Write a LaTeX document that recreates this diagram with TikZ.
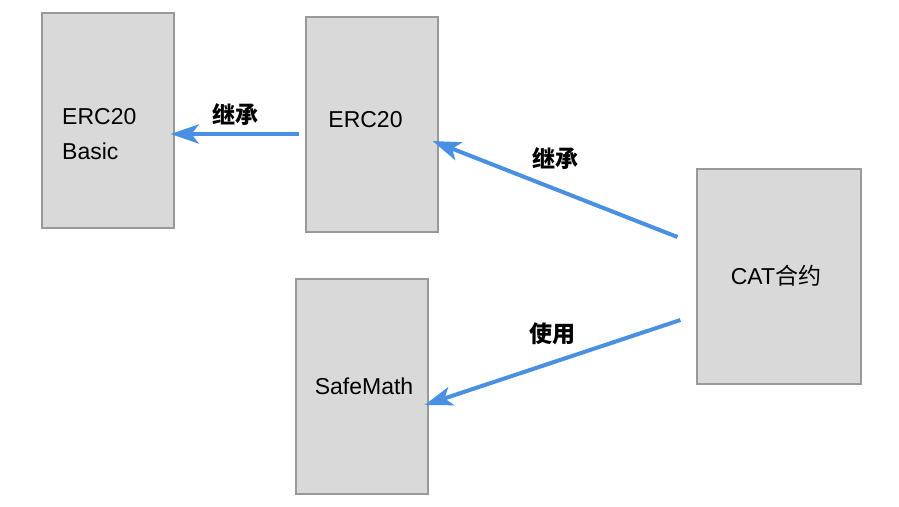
\documentclass[tikz,border=0pt]{standalone}
\usepackage{fontspec}
\setmainfont{Liberation Sans}
\newfontfamily\cjk{Noto Sans CJK SC}
\usepackage{tikz}
\usetikzlibrary{arrows.meta}
\definecolor{boxfill}{HTML}{D9D9D9}
\definecolor{boxline}{HTML}{999999}
\definecolor{arrowblue}{HTML}{4A90E2}
\tikzstyle{box} = [rectangle, draw=boxline, line width=1.2pt, fill=boxfill, minimum width=132pt, minimum height=215pt]
\tikzstyle{boxtext} = [align=left, font=\fontsize{23}{35}\selectfont]
\tikzstyle{rel} = [draw=arrowblue, line width=4pt, -{Stealth[length=28pt,width=19pt,inset=7pt]}]
\tikzstyle{lbl} = [font=\cjk\bfseries\fontsize{23}{26}\selectfont]

\begin{document}
\begin{tikzpicture}[x=1pt,y=-1pt]
    \useasboundingbox (0,0) rectangle (899,506);
    % boxes
    \node (Basic) [box] at (108,120.5) {};
    \node (ERC) [box] at (372,124.5) {};
    \node (CAT) [box, minimum width=164pt] at (779,276.5) {};
    \node (Safe) [box] at (362,386.5) {};
    % names
    \node (BasicName) [boxtext, anchor=west, inner sep=0pt] at (62,134.5) {ERC20\\Basic};
    \node (ERCName) [boxtext] at (365.5,120) {ERC20};
    \node (CATName) [boxtext] at (776,276) {CAT{\cjk 合约}};
    \node (SafeName) [boxtext] at (364,386) {SafeMath};
    % relations
    \draw[rel] ([shift={(-6pt,-9.5pt)}]ERC.west) -- node[lbl, above=3pt] {继承} ([shift={(-4pt,-13.5pt)}]Basic.east);
    \draw[rel] ([shift={(-19pt,39.5pt)}]CAT.west) -- node[lbl, above=14pt] {继承} ([shift={(-6pt,-16.5pt)}]ERC.east);
    \draw[rel] ([shift={(-16pt,-43.5pt)}]CAT.west) -- node[lbl, above=12pt] {使用} ([shift={(-4pt,-18.5pt)}]Safe.east);
\end{tikzpicture}
\end{document}
